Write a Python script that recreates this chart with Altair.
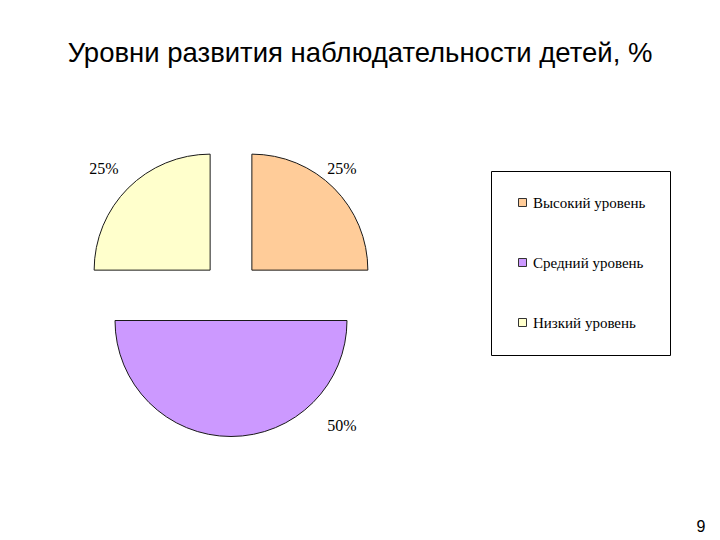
import math
import altair as alt
import pandas as pd

# ---- data ----
levels = ["Высокий уровень", "Средний уровень", "Низкий уровень"]
values = [25, 50, 25]
colors = ["#FFCC99", "#CC99FF", "#FFFFCC"]
title_text = "Уровни развития наблюдательности детей, %"
page = ["9"]

df = pd.DataFrame({"level": levels, "value": values, "order": list(range(len(levels)))})

# ---- layout / style ----
W, H, TOP = 720, 460, 80
R = 116
CX, CY = 231, 211          # pie centre inside the view
EXPLODE = 29.5
# label nudges (style) per slice
label_nudge = {
    "Высокий уровень": (-6, -5),
    "Средний уровень": (111, -31),
    "Низкий уровень": (-10, -5),
}

theta_scale = alt.Scale(type="linear", domain=[0, 100], range=[0, 2 * math.pi])
color_scale = alt.Scale(domain=levels, range=colors)

base = (
    alt.Chart(df)
    .transform_stack(stack="value", as_=["start", "end"], groupby=[],
                     sort=[alt.SortField("order", order="ascending")])
    .transform_calculate(mid="(datum.start + datum.end) / 2",
                         label="datum.value + '%'")
)

layers = []
cum = 0
total = sum(values)
for lvl, v in zip(levels, values):
    mid_ang = (cum + v / 2) / total * 2 * math.pi
    cum += v
    ox = CX - W / 2 + EXPLODE * math.sin(mid_ang)
    oy = CY - H / 2 - EXPLODE * math.cos(mid_ang)
    sub = base.transform_filter(alt.datum.level == lvl)
    arc = sub.mark_arc(radius=R, stroke="#1a1a1a", strokeWidth=1,
                       xOffset=ox, yOffset=oy).encode(
        theta=alt.Theta("start:Q", scale=theta_scale),
        theta2="end:Q",
        color=alt.Color("level:N", scale=color_scale, title=None,
                        legend=alt.Legend(orient="none", legendX=491, legendY=91,
                                          symbolType="square", symbolSize=64,
                                          symbolStrokeColor="#333", symbolStrokeWidth=1,
                                          labelFont="Liberation Serif", labelFontSize=15,
                                          labelColor="#000", labelOffset=3,
                                          rowPadding=44, padding=24,
                                          strokeColor="#000", labelLimit=300)),
    )
    dx, dy = label_nudge[lvl]
    txt = sub.mark_text(font="Liberation Serif", fontSize=16, color="#000",
                        xOffset=ox, yOffset=oy, dx=dx, dy=dy).encode(
        theta=alt.Theta("mid:Q", scale=theta_scale),
        radius=alt.value(R + 20),
        text="label:N",
    )
    layers += [arc, txt]

page_df = pd.DataFrame({"p": page})
page_txt = alt.Chart(page_df).mark_text(font="Liberation Sans", fontSize=16,
                                        color="#000").encode(
    x=alt.value(701), y=alt.value(447), text="p:N")

chart = (
    alt.layer(*layers, page_txt)
    .properties(
        width=W, height=H,
        title=alt.TitleParams(title_text, font="Liberation Sans", fontSize=27.5,
                              fontWeight="normal", color="#000", anchor="middle",
                              offset=13),
        autosize=alt.AutoSizeParams(type="none"),
        padding={"left": 0, "top": TOP, "right": 0, "bottom": 0},
    )
    .configure_view(stroke=None)
)

chart.save("out.html", embed_options={"renderer": "svg", "actions": False})
